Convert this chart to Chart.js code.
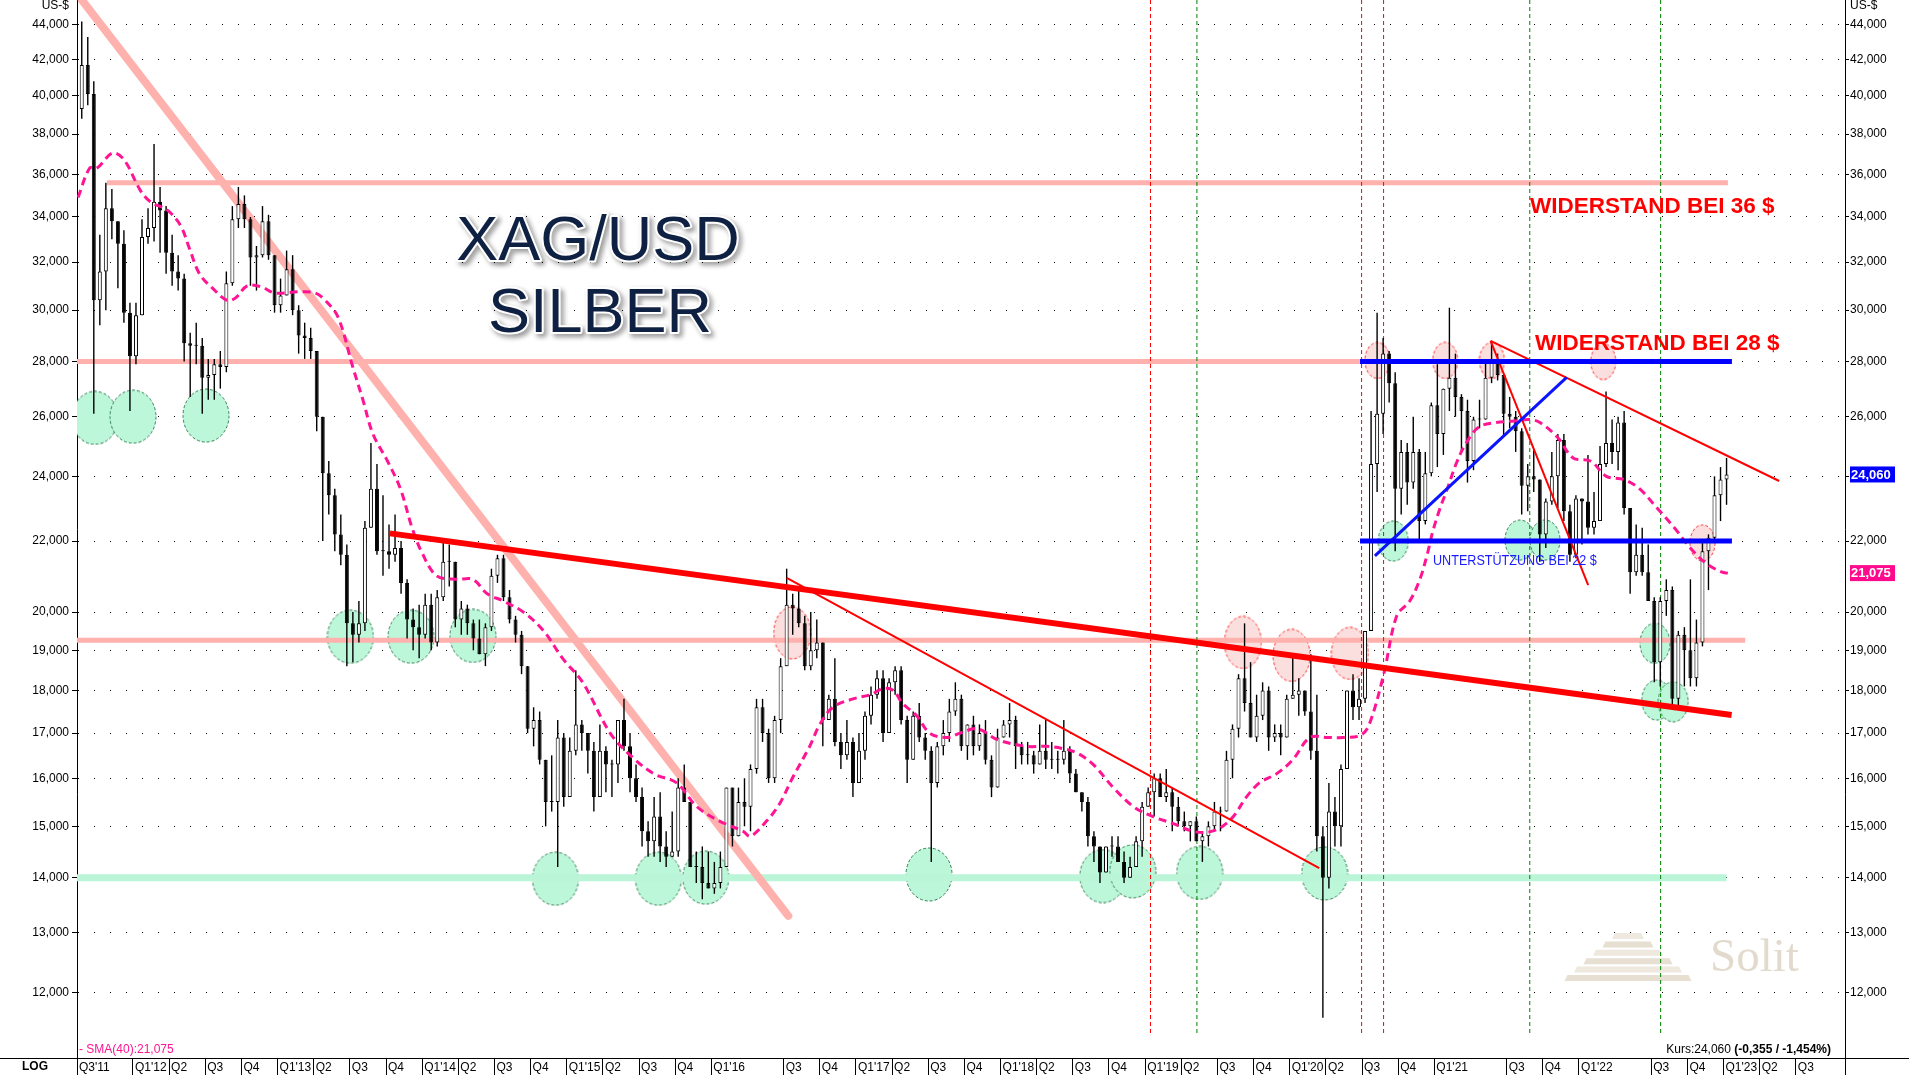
<!DOCTYPE html>
<html>
<head>
<meta charset="utf-8">
<title>XAG/USD Silber</title>
<script src="https://cdn.jsdelivr.net/npm/chart.js@4.4.1/dist/chart.umd.min.js"></script>
<style>
  html, body { margin: 0; padding: 0; background: #fff; }
  #wrap { width: 1909px; height: 1075px; position: relative; }
</style>
</head>
<body>
<div id="wrap"><canvas id="chart"></canvas></div>
<script>
// half-month candles from the 2nd half of Aug 2011 to the 1st half of Jan 2023
const periodStart = 2011.625;
const periodsPerYear = 24;
const firstOpen = 39.3;

const highs = [
  44.2, 43.3, 40.8, 33.2, 35.6, 35.3, 33.8, 33.4, 30.3,
  30.3, 33.9, 34.4, 37.5, 35.4, 34.5, 33.2, 32.3, 31.5, 29.1, 29.5, 28.9, 28.1, 28.1, 28.4, 31.6, 34.5, 35.4, 35.0, 34.0, 32.7, 34.5, 34.1, 32.3,
  31.3, 32.5, 32.3, 30.2, 29.5, 29.3, 28.4, 26.0, 24.5, 23.6, 22.8, 21.9, 20.0, 20.3, 22.6, 25.1, 24.4, 23.4, 22.5, 22.8, 22.0, 20.9, 20.1, 20.2,
  20.5, 20.5, 20.6, 22.0, 21.9, 21.4, 20.3, 20.2, 19.8, 19.8, 19.7, 21.2, 21.6, 21.6, 20.6, 19.9, 19.5, 18.6, 17.6, 17.5, 16.4, 16.5, 17.3, 17.0,
  16.9, 18.5, 17.3, 17.0, 16.8, 17.2, 16.7, 16.4, 17.3, 17.8, 17.0, 16.3, 15.8, 15.1, 15.6, 15.7, 14.9, 15.3, 16.0, 16.3, 15.5, 14.5, 14.6, 14.5,
  14.3, 14.5, 15.8, 15.8, 15.8, 16.0, 16.3, 17.8, 17.8, 17.1, 17.4, 18.8, 21.2, 20.5, 20.6, 19.9, 20.0, 19.8, 19.2, 17.9, 18.8, 17.0, 17.3, 16.9,
  17.0, 17.5, 18.1, 18.5, 18.5, 18.3, 18.6, 18.6, 17.4, 17.5, 17.7, 17.0, 16.7, 16.8, 17.3, 17.8, 18.2, 17.9, 17.2, 17.4, 17.2, 17.3, 16.5, 17.1,
  17.3, 17.7, 17.4, 16.8, 16.8, 16.6, 17.2, 17.3, 16.8, 16.6, 17.3, 16.7, 16.2, 15.7, 15.6, 14.9, 14.6, 14.6, 14.8, 14.8, 14.5, 14.4, 14.8, 15.5,
  15.8, 16.1, 16.1, 16.2, 15.8, 15.6, 15.3, 15.1, 15.2, 14.9, 15.1, 15.5, 15.4, 16.6, 17.2, 18.4, 19.7, 18.7, 17.9, 18.2, 18.1, 17.2, 17.2, 17.9,
  18.9, 18.3, 18.0, 18.9, 17.9, 15.0, 15.9, 15.6, 16.3, 18.0, 18.4, 18.3, 19.5, 26.2, 29.9, 28.9, 28.4, 27.6, 25.2, 25.1, 26.0, 24.9, 24.8, 26.5,
  27.9, 27.0, 30.1, 28.3, 26.8, 26.6, 26.0, 26.6, 28.0, 28.7, 28.3, 27.5, 26.7, 26.2, 25.6, 24.4, 24.9, 23.9, 23.3, 24.8, 25.4, 25.4, 23.1, 23.4,
  23.3, 24.7, 23.5, 25.0, 26.9, 25.9, 26.0, 26.2, 23.0, 22.5, 22.4, 21.9, 20.4, 20.4, 20.9, 20.7, 19.5, 19.6, 20.9, 19.8, 22.0, 22.2, 24.0, 24.3,
  24.6
];

const lows = [
  38.8, 39.5, 26.1, 29.4, 30.0, 33.0, 30.9, 29.5, 26.2,
  27.9, 29.8, 32.8, 32.9, 32.4, 31.5, 31.0, 30.8, 28.0, 26.7, 27.9, 26.1, 26.6, 26.6, 27.0, 27.6, 31.0, 33.5, 33.5, 31.0, 30.8, 32.2, 32.1, 29.9,
  29.9, 30.6, 29.8, 28.3, 28.1, 28.1, 25.5, 22.0, 22.8, 21.7, 21.3, 18.6, 18.7, 19.2, 19.5, 22.4, 21.6, 21.0, 21.2, 21.4, 20.5, 19.3, 19.0, 18.8,
  19.3, 19.0, 19.1, 20.3, 20.7, 19.6, 19.4, 19.4, 19.0, 18.9, 18.6, 19.5, 20.8, 20.3, 19.7, 19.2, 18.4, 17.0, 16.7, 16.3, 15.0, 15.3, 14.2, 15.4,
  15.6, 16.5, 16.6, 16.1, 15.3, 15.6, 15.7, 15.6, 15.9, 16.6, 15.7, 15.5, 14.6, 14.4, 14.4, 14.3, 14.2, 14.4, 14.4, 15.5, 14.2, 13.9, 13.6, 13.8,
  13.7, 13.8, 14.2, 14.6, 14.8, 15.0, 14.9, 16.1, 16.8, 15.9, 15.9, 17.0, 18.6, 19.4, 19.6, 18.5, 18.5, 18.8, 16.7, 17.3, 16.7, 16.2, 16.4, 15.6,
  15.9, 16.4, 17.2, 17.8, 16.8, 17.0, 17.9, 17.2, 15.9, 16.4, 16.8, 16.4, 14.3, 15.8, 16.5, 16.8, 17.4, 16.6, 16.4, 16.5, 16.6, 16.3, 15.6, 15.8,
  16.9, 16.9, 16.2, 16.3, 16.3, 16.1, 16.3, 16.2, 16.2, 16.1, 16.3, 15.9, 15.7, 15.3, 14.6, 14.3, 13.9, 14.1, 14.4, 14.3, 13.9, 14.0, 14.2, 14.4,
  15.4, 15.2, 15.6, 15.5, 14.9, 15.0, 14.9, 14.7, 14.7, 14.3, 14.6, 14.9, 14.9, 15.3, 16.0, 16.9, 17.5, 16.9, 16.8, 17.3, 16.6, 16.8, 16.5, 16.9,
  17.8, 17.4, 17.4, 16.4, 14.5, 11.6, 13.8, 14.6, 14.6, 16.2, 17.3, 17.3, 17.7, 19.5, 23.5, 25.4, 26.5, 21.7, 22.8, 23.1, 23.6, 22.0, 22.5, 24.0,
  24.3, 24.7, 26.2, 26.0, 24.8, 23.8, 24.2, 25.6, 25.9, 27.2, 27.3, 25.3, 25.6, 24.8, 22.8, 22.9, 23.5, 21.4, 21.8, 23.1, 23.0, 22.6, 21.4, 21.5,
  21.9, 22.2, 22.2, 22.6, 24.3, 24.4, 24.2, 22.8, 20.5, 21.0, 21.0, 20.3, 18.2, 18.1, 19.9, 17.6, 17.6, 18.1, 18.1, 18.1, 19.1, 20.6, 22.0, 22.6,
  23.1
];

const closes = [
  41.7, 40.1, 30.4, 31.6, 34.4, 33.8, 32.8, 29.9, 28.2,
  29.8, 33.1, 33.5, 34.7, 34.3, 32.4, 31.6, 31.3, 28.7, 28.6, 28.6, 27.4, 27.5, 27.9, 27.8, 31.1, 33.9, 34.6, 33.9, 32.2, 32.3, 33.8, 32.3, 30.2,
  30.6, 31.7, 30.0, 29.0, 28.9, 28.4, 26.0, 24.1, 23.4, 22.2, 21.6, 19.7, 19.4, 19.7, 22.4, 23.6, 21.7, 21.7, 21.6, 21.8, 20.8, 19.8, 19.6, 19.4,
  20.2, 19.2, 20.4, 21.4, 21.4, 19.8, 20.1, 19.7, 19.3, 18.9, 19.6, 21.0, 21.5, 20.4, 19.8, 19.4, 18.6, 17.1, 17.3, 16.4, 15.5, 15.5, 16.9, 15.6,
  16.6, 17.2, 17.0, 16.6, 15.6, 16.6, 16.3, 16.3, 17.3, 16.7, 16.0, 15.6, 14.9, 14.7, 15.2, 14.6, 14.4, 14.5, 15.8, 15.5, 14.2, 14.2, 13.9, 13.8,
  13.9, 14.2, 15.8, 14.8, 15.5, 15.4, 16.2, 17.6, 17.0, 16.0, 17.3, 18.6, 20.2, 20.1, 19.7, 18.6, 19.0, 19.2, 17.3, 17.8, 16.8, 16.5, 16.8, 15.9,
  16.6, 17.4, 17.9, 18.3, 17.0, 18.2, 18.5, 17.3, 16.4, 17.4, 16.9, 16.6, 15.9, 16.7, 17.0, 17.5, 17.8, 16.7, 17.2, 16.7, 17.0, 16.4, 15.8, 16.9,
  17.2, 17.3, 16.7, 16.5, 16.5, 16.3, 16.6, 16.4, 16.4, 16.4, 16.6, 16.1, 15.7, 15.5, 14.8, 14.6, 14.1, 14.6, 14.6, 14.3, 14.0, 14.2, 14.7, 15.4,
  15.7, 16.0, 15.6, 15.7, 15.4, 15.1, 15.0, 15.1, 14.7, 14.8, 15.0, 15.3, 15.3, 16.4, 17.1, 18.3, 17.7, 16.9, 17.4, 18.0, 16.9, 17.0, 16.9, 17.8,
  17.9, 18.0, 17.5, 16.6, 14.8, 14.0, 15.3, 15.0, 16.2, 18.0, 17.6, 17.8, 19.5, 24.4, 26.1, 28.3, 27.2, 23.6, 24.8, 23.8, 24.8, 22.6, 24.1, 26.4,
  25.4, 27.0, 27.4, 26.7, 26.2, 24.5, 25.9, 25.9, 27.4, 28.0, 27.5, 26.1, 26.0, 25.5, 23.7, 24.0, 23.9, 22.2, 23.2, 24.0, 25.2, 22.9, 21.6, 23.3,
  23.2, 22.4, 22.6, 24.4, 25.1, 24.8, 25.8, 23.0, 21.1, 21.6, 21.1, 20.3, 18.7, 20.3, 20.6, 17.8, 19.4, 19.0, 18.3, 19.2, 21.7, 22.1, 23.4, 23.9,
  24.06
];
const lastChange = -0.355;
const lastChangePct = -1.454;

// SMA(40)
const smaX = [2011.62, 2011.70, 2011.75, 2011.86, 2011.94, 2012.05, 2012.12, 2012.24, 2012.33, 2012.39, 2012.46, 2012.55, 2012.65, 2012.71,
  2012.79, 2012.89, 2012.98, 2013.15, 2013.26, 2013.33, 2013.42, 2013.52, 2013.59, 2013.66, 2013.76, 2013.85, 2013.93, 2014.00, 2014.10,
  2014.24, 2014.35, 2014.45, 2014.56, 2014.70, 2014.84, 2014.97, 2015.11, 2015.30, 2015.44, 2015.60, 2015.76, 2015.90, 2016.06, 2016.22,
  2016.27, 2016.38, 2016.47, 2016.56, 2016.68, 2016.75, 2016.84, 2016.98, 2017.10, 2017.19, 2017.26, 2017.32, 2017.42, 2017.51, 2017.63,
  2017.72, 2017.84, 2017.98, 2018.18, 2018.32, 2018.43, 2018.53, 2018.64, 2018.78, 2018.92, 2019.05, 2019.19, 2019.33, 2019.43, 2019.52,
  2019.61, 2019.70, 2019.79, 2019.91, 2020.02, 2020.14, 2020.26, 2020.37, 2020.49, 2020.55, 2020.65, 2020.74, 2020.83, 2020.90, 2020.95,
  2020.99, 2021.04, 2021.09, 2021.15, 2021.22, 2021.31, 2021.43, 2021.55, 2021.66, 2021.73, 2021.85, 2021.96, 2022.08, 2022.19, 2022.31,
  2022.42, 2022.54, 2022.66, 2022.77, 2022.88, 2022.99, 2023.03];
const smaY = [34.9, 36.3, 36.3, 37.05, 36.7, 35.25, 34.7, 34.3, 33.6, 32.6, 31.5, 30.9, 30.4, 30.5,
  31.0, 30.95, 30.7, 30.75, 30.7, 30.4, 29.7, 27.8, 26.6, 25.4, 24.5, 23.6, 22.4, 21.65, 21.0,
  20.9, 20.9, 20.5, 20.3, 20.0, 19.5, 18.8, 18.2, 17.0, 16.5, 16.1, 15.9, 15.4, 15.1, 14.9,
  14.8, 15.1, 15.45, 16.0, 16.7, 17.2, 17.6, 17.8, 17.9, 18.05, 18.0, 17.7, 17.4, 17.0, 16.9,
  17.0, 17.1, 16.85, 16.7, 16.7, 16.65, 16.55, 16.3, 15.8, 15.4, 15.2, 15.06, 14.9, 14.88, 14.97,
  15.2, 15.6, 15.9, 16.1, 16.4, 16.9, 16.9, 16.9, 16.95, 17.2, 18.4, 19.9, 20.3, 20.9, 21.6,
  22.3, 23.0, 23.6, 24.4, 25.1, 25.65, 25.8, 25.85, 25.9, 25.8, 25.3, 24.6, 24.5, 24.0, 23.9,
  23.6, 23.0, 22.4, 21.8, 21.35, 21.1, 21.075];

// horizontal levels and trend lines: [year, price] end points
const level36 = [[2011.82, 35.6], [2023.03, 35.6]];
const level28 = [[2011.5, 28.0], [2020.5, 28.0]];
const level19 = [[2011.5, 19.26], [2023.15, 19.26]];
const level14 = [[2011.5, 14.0], [2023.02, 14.0]];
const bearTrend = [[2011.647, 45.5], [2016.532, 13.3]];
const redTrendLong = [[2013.777, 22.23], [2023.056, 17.42]];
const redTrend2016 = [[2016.521, 20.94], [2020.204, 14.18]];
const redTrend2021 = [[2021.389, 28.79], [2023.385, 23.85]];
const redTrendSteep = [[2021.389, 28.79], [2022.064, 20.74]];
const blueTop = [[2020.486, 28.0], [2023.058, 28.0]];
const blueBottom = [[2020.486, 22.0], [2023.058, 22.0]];
const blueRise = [[2020.589, 21.57], [2021.915, 27.41]];

// dashed vertical markers
const markerRedX = [2019.037, 2020.497, 2020.649];
const markerGreenX = [2019.358, 2021.66, 2022.565];
const markerLow = 11.32;

// support (green) and resistance (pink) touch points
const greenX = [2011.737, 2012.0, 2012.505, 2013.504, 2013.923, 2014.351, 2014.922, 2015.634, 2015.961, 2017.505,
  2018.707, 2018.914, 2019.377, 2020.241, 2020.716, 2021.592, 2021.765, 2022.526, 2022.538, 2022.652];
const greenY = [25.96, 26.0, 26.04, 19.35, 19.35, 19.37, 13.98, 13.98, 14.0, 14.06,
  14.03, 14.12, 14.09, 14.08, 22.0, 22.03, 22.03, 19.18, 17.77, 17.73];
const pinkX = [2016.559, 2019.676, 2020.013, 2020.416, 2020.606, 2021.075, 2021.398, 2022.168, 2022.854];
const pinkY = [19.45, 19.2, 18.87, 18.92, 28.04, 28.04, 28.04, 28.0, 21.95];

const yTickValues = [12, 13, 14, 15, 16, 17, 18, 19, 20, 22, 24, 26, 28, 30, 32, 34, 36, 38, 40, 42, 44];
const xTickPos = [2011.613, 2012, 2012.25, 2012.5, 2012.75, 2013, 2013.25, 2013.5, 2013.75, 2014, 2014.25, 2014.5, 2014.75,
  2015, 2015.25, 2015.5, 2015.75, 2016, 2016.5, 2016.75, 2017, 2017.25, 2017.5, 2017.75, 2018, 2018.25, 2018.5, 2018.75,
  2019, 2019.25, 2019.5, 2019.75, 2020, 2020.25, 2020.5, 2020.75, 2021, 2021.5, 2021.75, 2022, 2022.5, 2022.75,
  2023, 2023.25, 2023.5, 2023.84];
const xTickLabels = ["Q3'11", "Q1'12", "Q2", "Q3", "Q4", "Q1'13", "Q2", "Q3", "Q4", "Q1'14", "Q2", "Q3", "Q4",
  "Q1'15", "Q2", "Q3", "Q4", "Q1'16", "Q3", "Q4", "Q1'17", "Q2", "Q3", "Q4", "Q1'18", "Q2", "Q3", "Q4",
  "Q1'19", "Q2", "Q3", "Q4", "Q1'20", "Q2", "Q3", "Q4", "Q1'21", "Q3", "Q4", "Q1'22", "Q3", "Q4",
  "Q1'23", "Q2", "Q3", ""];

const X_MIN = 2011.613;
const X_MAX = 2023.840;
const Y_MIN = 10.989;
const Y_MAX = 45.502;

const FONT = "Arial, 'Liberation Sans', sans-serif";
const SMA_COLOR = '#ff1493';
const fmt = v => v.toFixed(3).replace('.', ',');

const periodX = i => periodStart + (i + 0.5) / periodsPerYear;
const opens = closes.map((c, i) => (i === 0 ? firstOpen : closes[i - 1]));
const xy = pts => pts.map(([x, y]) => ({x, y}));

function ellipseImage(w, h, fill, stroke) {
  const c = document.createElement('canvas');
  c.width = w + 2;
  c.height = h + 2;
  const g = c.getContext('2d');
  g.beginPath();
  g.ellipse(c.width / 2, c.height / 2, w / 2, h / 2, 0, 0, Math.PI * 2);
  g.fillStyle = fill;
  g.fill();
  g.setLineDash([3, 2]);
  g.lineWidth = 1;
  g.strokeStyle = stroke;
  g.stroke();
  return c;
}
const greenBig = ellipseImage(46, 53, '#bdf7da', '#2e7d50');
const greenSmall = ellipseImage(30, 40, '#bdf7da', '#2e7d50');
const pinkBig = ellipseImage(37, 52, '#fbdfdf', '#ff2a2a');
const pinkSmall = ellipseImage(25, 36, '#fbdfdf', '#ff2a2a');

function lineDs(pts, color, width, order, extra) {
  return Object.assign({
    type: 'line',
    data: xy(pts),
    borderColor: color,
    borderWidth: width,
    pointRadius: 0,
    fill: false,
    tension: 0,
    order
  }, extra || {});
}

const markerSets = [
  ...markerRedX.map(x => lineDs([[x, Y_MAX], [x, markerLow]], '#ff0000', 1, 9, {borderDash: [4, 3]})),
  ...markerGreenX.map(x => lineDs([[x, Y_MAX], [x, markerLow]], '#008000', 1, 9, {borderDash: [4, 3]}))
];

const decor = {
  id: 'decor',
  beforeDraw(chart) {
    const {ctx, width, height} = chart;
    ctx.save();
    ctx.fillStyle = '#fff';
    ctx.fillRect(0, 0, width, height);
    ctx.restore();
  },
  beforeDatasetsDraw(chart) {
    // Solit watermark
    const {ctx} = chart;
    ctx.save();
    for (let k = 0; k < 6; k++) {
      const half = 16 + k * 9.5;
      const y = 933 + k * 8.4;
      ctx.fillStyle = k % 2 ? '#e6dfd2' : '#eee8de';
      ctx.beginPath();
      ctx.moveTo(1628 - half + 3, y);
      ctx.lineTo(1628 + half - 3, y);
      ctx.lineTo(1628 + half, y + 6);
      ctx.lineTo(1628 - half, y + 6);
      ctx.closePath();
      ctx.fill();
    }
    ctx.fillStyle = '#e2dbcd';
    ctx.font = "47px 'Liberation Serif', 'Times New Roman', serif";
    ctx.textAlign = 'left';
    ctx.textBaseline = 'alphabetic';
    ctx.fillText('Solit', 1710, 971);
    ctx.restore();
  },
  afterDatasetsDraw(chart) {
    const {ctx} = chart;
    ctx.save();
    // title
    ctx.textAlign = 'center';
    ctx.textBaseline = 'alphabetic';
    ctx.font = `63px ${FONT}`;
    ctx.lineJoin = 'round';
    [['XAG/USD', 598, 260], ['SILBER', 600, 332]].forEach(([t, x, y]) => {
      ctx.save();
      ctx.shadowColor = 'rgba(0,0,0,0.45)';
      ctx.shadowBlur = 5;
      ctx.shadowOffsetX = 3;
      ctx.shadowOffsetY = 3;
      ctx.lineWidth = 4;
      ctx.strokeStyle = '#ffffff';
      ctx.strokeText(t, x, y);
      ctx.restore();
      ctx.fillStyle = '#0f2142';
      ctx.fillText(t, x, y);
    });
    // level captions
    ctx.textAlign = 'left';
    ctx.fillStyle = '#ff0000';
    ctx.font = `bold 22.5px ${FONT}`;
    ctx.fillText('WIDERSTAND BEI 36 $', 1530, 213);
    ctx.fillText('WIDERSTAND BEI 28 $', 1535, 350);
    ctx.save();
    ctx.translate(1433, 565);
    ctx.scale(0.9, 1);
    ctx.fillStyle = '#1a1aff';
    ctx.font = `14px ${FONT}`;
    ctx.fillText('UNTERSTÜTZUNG BEI 22 $', 0, 0);
    ctx.restore();
    // footers inside plot
    ctx.font = `12px ${FONT}`;
    ctx.fillStyle = SMA_COLOR;
    ctx.fillText('- SMA(40):' + fmt(smaY[smaY.length - 1]), 79, 1053);
    const last = closes[closes.length - 1];
    const part1 = 'Kurs:' + fmt(last) + ' ';
    const part2 = '(' + fmt(lastChange) + ' / ' + fmt(lastChangePct) + '%)';
    ctx.font = `12px ${FONT}`;
    const w1 = ctx.measureText(part1).width;
    ctx.font = `bold 12px ${FONT}`;
    const w2 = ctx.measureText(part2).width;
    const x0 = 1831 - w1 - w2;
    ctx.fillStyle = '#000';
    ctx.font = `12px ${FONT}`;
    ctx.fillText(part1, x0, 1053);
    ctx.font = `bold 12px ${FONT}`;
    ctx.fillText(part2, x0 + w1, 1053);
    ctx.restore();
  },
  afterDraw(chart) {
    const {ctx, chartArea, width} = chart;
    const yScale = chart.scales.y;
    ctx.save();
    ctx.strokeStyle = '#000';
    ctx.lineWidth = 1;
    ctx.beginPath();
    ctx.moveTo(0, Math.round(chartArea.bottom) + 0.5);
    ctx.lineTo(width, Math.round(chartArea.bottom) + 0.5);
    ctx.stroke();
    ctx.fillStyle = '#000';
    ctx.font = `bold 12px ${FONT}`;
    ctx.textAlign = 'center';
    ctx.textBaseline = 'middle';
    ctx.fillText('LOG', 35, 1067);
    ctx.font = `12px ${FONT}`;
    ctx.textBaseline = 'top';
    ctx.textAlign = 'right';
    ctx.fillText('US-$', 69, 0);
    ctx.textAlign = 'left';
    ctx.fillText('US-$', 1850, 0);
    // value boxes on the right axis
    const boxes = [[closes[closes.length - 1], '#0000ff'], [smaY[smaY.length - 1], '#ff0a8c']];
    ctx.font = `bold 13px ${FONT}`;
    ctx.textBaseline = 'middle';
    boxes.forEach(([v, color]) => {
      const y = yScale.getPixelForValue(v);
      ctx.fillStyle = color;
      ctx.fillRect(1850, y - 8, 45, 16);
      ctx.fillStyle = '#fff';
      ctx.fillText(fmt(v), 1851, y + 0.5);
    });
    ctx.restore();
  }
};

const yTicks = axis => { axis.ticks = yTickValues.map(v => ({value: v})); };

new Chart(document.getElementById('chart'), {
  type: 'bar',
  data: {
    datasets: [
      {
        type: 'line', label: 'support', showLine: false, order: 20, clip: 0,
        data: greenX.map((x, i) => ({x, y: greenY[i]})),
        pointRadius: 24, pointStyle: ctx => (greenX[ctx.dataIndex] < 2020.5 ? greenBig : greenSmall)
      },
      {
        type: 'line', label: 'resistance', showLine: false, order: 20, clip: 0,
        data: pinkX.map((x, i) => ({x, y: pinkY[i]})),
        pointRadius: 24, pointStyle: ctx => (pinkX[ctx.dataIndex] < 2020.5 ? pinkBig : pinkSmall)
      },
      lineDs(level36, '#ffb1ad', 5, 12),
      lineDs(level28, '#ffb1ad', 5, 12),
      lineDs(level19, '#ffb1ad', 5, 12),
      lineDs(level14, '#baf5d8', 7, 12),
      lineDs(bearTrend, '#ffb1ad', 8, 11, {borderCapStyle: 'round'}),
      ...markerSets,
      {
        type: 'bar', label: 'range', order: 7, grouped: false, maxBarThickness: 1.4,
        backgroundColor: '#000', borderWidth: 0,
        data: highs.map((h, i) => ({x: periodX(i), y: [lows[i], h]}))
      },
      {
        type: 'bar', label: 'body', order: 6, grouped: false, maxBarThickness: 4, minBarLength: 1,
        backgroundColor: ctx => (closes[ctx.dataIndex] >= opens[ctx.dataIndex] ? '#ffffff' : '#000000'),
        borderColor: '#000', borderWidth: 1, borderSkipped: false,
        data: closes.map((c, i) => ({x: periodX(i), y: [opens[i], c]}))
      },
      lineDs(smaX.map((x, i) => [x, smaY[i]]), SMA_COLOR, 3, 5, {borderDash: [8, 5], tension: 0.35}),
      lineDs(redTrendLong, '#ff0000', 6, 3),
      lineDs(redTrend2016, '#ff0000', 2, 3),
      lineDs(redTrend2021, '#ff0000', 2, 3),
      lineDs(redTrendSteep, '#ff0000', 2, 3),
      lineDs(blueTop, '#0000ff', 5, 2),
      lineDs(blueBottom, '#0000ff', 5, 2),
      lineDs(blueRise, '#0a14ff', 3, 2)
    ]
  },
  options: {
    responsive: true,
    maintainAspectRatio: false,
    devicePixelRatio: 1,
    animation: false,
    events: [],
    layout: {padding: 0, autoPadding: false},
    font: {family: FONT, size: 12},
    plugins: {legend: {display: false}, tooltip: {enabled: false}},
    scales: {
      x: {
        type: 'linear', position: 'bottom', min: X_MIN, max: X_MAX, bounds: 'data', offset: false,
        grid: {display: true, drawOnChartArea: false, drawTicks: true, tickLength: 17, color: '#000', tickColor: '#000', offset: false},
        border: {display: true, color: '#000'},
        ticks: {
          autoSkip: false, maxRotation: 0, minRotation: 0, align: 'start', padding: -15, labelOffset: 2,
          color: '#000', font: {family: FONT, size: 12},
          callback: (v, i) => xTickLabels[i]
        },
        afterBuildTicks: axis => { axis.ticks = xTickPos.map(v => ({value: v})); },
        afterFit: axis => { axis.height = 17; axis.paddingLeft = 0; axis.paddingRight = 0; }
      },
      y: {
        type: 'logarithmic', position: 'left', min: Y_MIN, max: Y_MAX, bounds: 'data', beginAtZero: false,
        grid: {display: true, drawOnChartArea: true, drawTicks: true, tickLength: 5, color: '#000', tickColor: '#000', lineWidth: 1},
        border: {display: true, color: '#000', dash: [1, 15]},
        ticks: {autoSkip: false, padding: 3, color: '#000', font: {family: FONT, size: 12}, callback: v => fmt(v)},
        afterBuildTicks: yTicks,
        afterFit: axis => { axis.width = 77; axis.paddingTop = 0; axis.paddingBottom = 0; }
      },
      y2: {
        type: 'logarithmic', position: 'right', min: Y_MIN, max: Y_MAX, bounds: 'data', beginAtZero: false,
        grid: {display: true, drawOnChartArea: false, drawTicks: true, tickLength: 4, color: '#000', tickColor: '#000'},
        border: {display: true, color: '#000'},
        ticks: {autoSkip: false, padding: 1, color: '#000', font: {family: FONT, size: 12}, callback: v => fmt(v)},
        afterBuildTicks: yTicks,
        afterFit: axis => { axis.width = 64; axis.paddingTop = 0; axis.paddingBottom = 0; }
      }
    }
  },
  plugins: [decor]
});
</script>
</body>
</html>
